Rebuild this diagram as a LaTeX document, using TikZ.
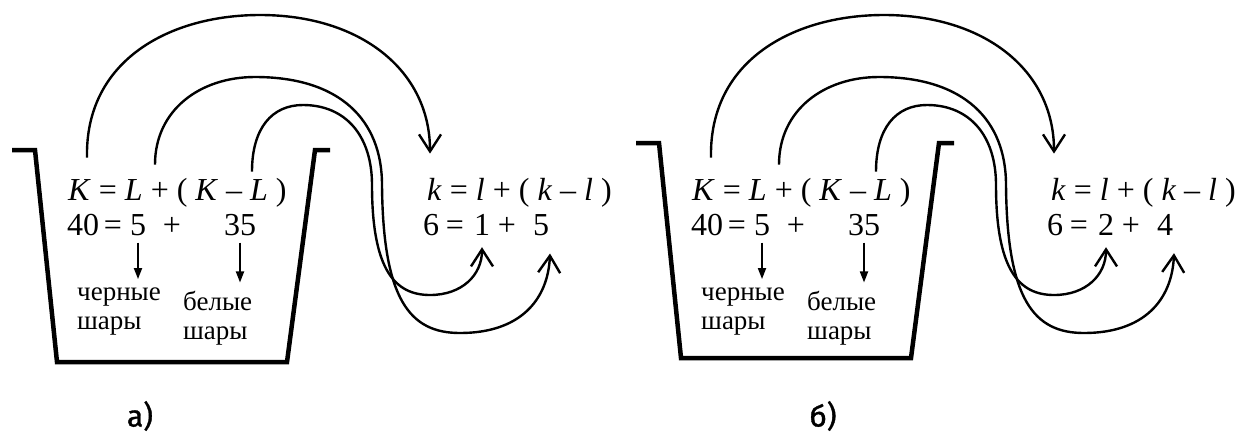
\documentclass[tikz,border=0pt]{standalone}
\usepackage{fontspec}
\setmainfont{Liberation Serif}
\newfontfamily\eqfont{Liberation Serif}
\newfontfamily\lblfont{Fira Sans}[FakeBold=1.2]
\usetikzlibrary{arrows.meta}
\tikzset{
  bucket/.style={line width=4.5pt, line join=miter, line cap=butt},
  flow/.style={line width=2.4pt, -{Straight Barb[length=17pt,width=22pt,line width=2.4pt]}},
  downarr/.style={line width=1.8pt, shorten >=8pt, -{Triangle[length=11pt,width=8pt]}},
  eqline/.style={inner sep=0pt, anchor=base west, font=\eqfont\fontsize{32}{38}\selectfont},
  tok/.style={inner sep=0pt, anchor=base, font=\eqfont\fontsize{32}{38}\selectfont},
  word/.style={inner sep=0pt, anchor=base west, font=\eqfont\fontsize{27}{32}\selectfont},
  panlbl/.style={inner sep=0pt, font=\lblfont\fontsize{30}{36}\selectfont}
}
\newcommand\drawpanel[6]{%
  \draw[bucket] (12,#4) -- (35,#4) -- (57,#5) -- (287,#5) -- (315,#4) -- (330,#4);
  % left equation
  \node[eqline] (eqA) at (68,200) {\textit{K} = \textit{L} + ( \textit{K} – \textit{L} )};
  \node[tok] (n40) at (83,235)  {40};
  \node[tok] (e2)  at (113,235) {=};
  \node[tok] (five) at (138,235) {5};
  \node[tok] (p2)  at (172,235) {+};
  \node[tok] (tf)  at (240,235) {35};
  % labels
  \node[word] (blk)  at (77,300)  {черные};
  \node[word] (blk2) at (77,329)  {шары};
  \node[word] (wht)  at (183,310) {белые};
  \node[word] (wht2) at (183,339) {шары};
  \draw[downarr] ([yshift=-7pt]five.south) -- (five.south |- blk.north);
  \draw[downarr] ([yshift=-7pt]tf.south) -- (tf.south |- wht.north);
  % right equation
  \node[eqline] (eqB) at (427,200) {\textit{k} = \textit{l} + ( \textit{k} – \textit{l} )};
  \node[tok] (six) at (431,235) {6};
  \node[tok] (e4)  at (455,235) {=};
  \node[tok] (ll)  at (482,235) {#1};
  \node[tok] (p4)  at (507,235) {+};
  \node[tok] (kl)  at (541,235) {#2};
  % flows
  \draw[flow] ([shift={(19,-20)}]eqA.north west) .. controls (85,60) and (170,15) .. (260,15)
     .. controls (360,15) and (430,70) .. ([shift={(3,-24)}]eqB.north west);
  \draw[flow] ([shift={(87,-13)}]eqA.north west) .. controls (155,110) and (200,77) .. (255,77)
     .. controls (340,77) and (382,120) .. (382,185)
     .. controls (383,300) and (410,333) .. (460,333)
     .. controls (520,333) and (548,300) .. ([shift={(9,18)}]kl.south);
  \draw[flow] ([shift={(184,-6)}]eqA.north west) .. controls (252,128) and (272,105) .. (303,105)
     .. controls (345,105) and (372,135) .. (372,185)
     .. controls (372,270) and (395,295) .. (430,295)
     .. controls (462,295) and (482,275) .. ([shift={(0,12)}]ll.south);
  \node[panlbl] (lab) at (#6,416) {#3};
}
\begin{document}
\begin{tikzpicture}[x=1pt,y=-1pt]
  \useasboundingbox (0,0) rectangle (1241,432);
  \begin{scope}
    \drawpanel{1}{5}{а)}{150}{362}{140}
  \end{scope}
  \begin{scope}[xshift=624pt, name prefix=b-]
    \drawpanel{2}{4}{б)}{143}{358}{199}
  \end{scope}
\end{tikzpicture}
\end{document}
